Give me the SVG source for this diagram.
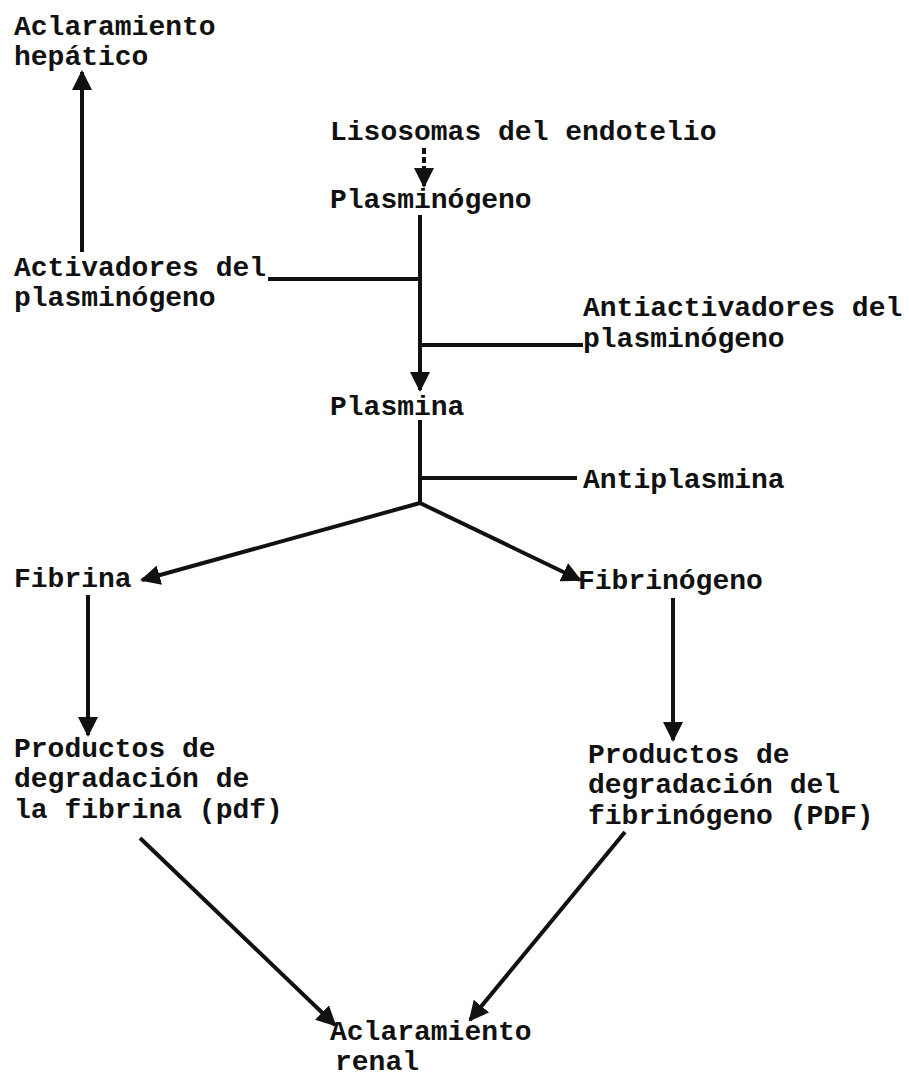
<svg xmlns="http://www.w3.org/2000/svg" width="909" height="1076" viewBox="0 0 909 1076">
<style>
text{font-family:"Liberation Mono","Courier New",monospace;font-weight:bold;font-size:28px;fill:#111}
.c{stroke:#111;stroke-width:4;fill:none}
</style>
<defs>
<marker id="ah" viewBox="0 0 10 10" refX="9" refY="5" markerWidth="5" markerHeight="5" orient="auto" markerUnits="strokeWidth">
<path d="M0,0 L10,5 L0,10 z" fill="#111"/>
</marker>
</defs>
<rect width="909" height="1076" fill="#fff"/>
<g id="connectors">
<line class="c" x1="82" y1="252" x2="82" y2="72" marker-end="url(#ah)"/>
<line class="c" x1="424" y1="148" x2="424" y2="186" stroke-dasharray="6,3" marker-end="url(#ah)"/>
<line class="c" x1="420" y1="215" x2="420" y2="390" marker-end="url(#ah)"/>
<line class="c" x1="268" y1="279" x2="420" y2="279"/>
<line class="c" x1="420" y1="345" x2="583" y2="345"/>
<line class="c" x1="420" y1="420" x2="420" y2="503"/>
<line class="c" x1="420" y1="478" x2="577" y2="478"/>
<line class="c" x1="420" y1="503" x2="142" y2="580" marker-end="url(#ah)"/>
<line class="c" x1="420" y1="503" x2="580" y2="580" marker-end="url(#ah)"/>
<line class="c" x1="88" y1="595" x2="88" y2="735" marker-end="url(#ah)"/>
<line class="c" x1="673" y1="598" x2="673" y2="740" marker-end="url(#ah)"/>
<line class="c" x1="140" y1="838" x2="335" y2="1025" marker-end="url(#ah)"/>
<line class="c" x1="625" y1="832" x2="470" y2="1020" marker-end="url(#ah)"/>
</g>
<g id="n-hepatico"><text x="14" y="35">Aclaramiento</text><text x="14" y="65">hepático</text></g>
<g id="n-lisosomas"><text x="330" y="140">Lisosomas del endotelio</text></g>
<g id="n-plasminogeno"><text x="330" y="208">Plasminógeno</text></g>
<g id="n-activadores"><text x="14" y="276">Activadores del</text><text x="14" y="306">plasminógeno</text></g>
<g id="n-antiactivadores"><text x="583" y="316">Antiactivadores del</text><text x="583" y="347">plasminógeno</text></g>
<g id="n-plasmina"><text x="330" y="415">Plasmina</text></g>
<g id="n-antiplasmina"><text x="583" y="488">Antiplasmina</text></g>
<g id="n-fibrina"><text x="14" y="587">Fibrina</text></g>
<g id="n-fibrinogeno"><text x="578" y="589">Fibrinógeno</text></g>
<g id="n-pdf"><text x="14" y="757">Productos de</text><text x="14" y="787">degradación de</text><text x="14" y="818">la fibrina (pdf)</text></g>
<g id="n-PDF"><text x="588" y="763">Productos de</text><text x="588" y="793">degradación del</text><text x="588" y="824">fibrinógeno (PDF)</text></g>
<g id="n-renal"><text x="330" y="1040">Aclaramiento</text><text x="335" y="1070">renal</text></g>
</svg>
